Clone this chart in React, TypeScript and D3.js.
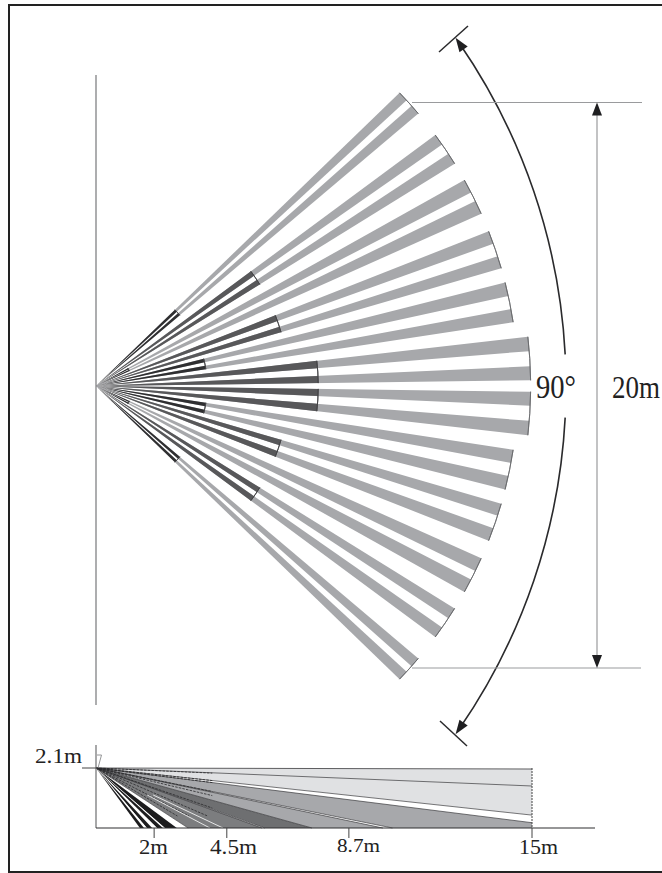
import React from "react";
import * as d3 from "d3";

// Plan view: each fan holds two strips, angles in degrees above the axis, mirrored below
const stripHighDeg = [44.0, 41.6, 36.5, 33.4, 29.2, 26.0, 21.5, 17.9, 14.2, 10.5, 6.5, 2.6];
const stripLowDeg = [42.6, 40.2, 34.9, 31.8, 27.3, 24.1, 19.7, 16.2, 12.3, 8.7, 4.6, 0.75];
// range of each strip in metres, and the near dark part
const stripRangeM = [15, 15, 15, 15, 15, 15, 15, 15, 15, 15, 15.45, 15.45];
const stripDarkM = [3.9, 3.9, 6.85, 6.85, 1.3, 1.3, 6.85, 6.85, 3.95, 3.95, 7.9, 7.9];
const stripDarkTone = ["#2f2f31", "#2f2f31", "#58585a", "#58585a", "#232325", "#232325", "#58585a", "#58585a", "#2f2f31", "#2f2f31", "#58585a", "#58585a"];

// Side view: zones defined by the ground distance (m) their edges aim at from the 2.1 m mount
const zoneNear = [900, 19.1, 16.45, 10.2, 9.87, 7.43, 5.81, 5.71, 3.17, 2.78, 2.37, 2.3, 2.1, 1.93, 1.75, 1.65];
const zoneFar = [19.1, 16.45, 10.2, 9.87, 7.43, 5.81, 5.71, 3.17, 2.78, 2.37, 2.3, 2.1, 1.93, 1.75, 1.65, 1.51];
const zoneFill = ["#e0e1e3", "#ffffff", "#a7a8ab", "#ffffff", "#a7a8ab", "#6e6f71", "#ffffff", "#7c7d7f", "#ffffff", "#1c1c1e", "#ffffff", "#1c1c1e", "#ffffff", "#1c1c1e", "#ffffff", "#1c1c1e"];
const solidRays = [900, 50, 19.1, 16.45, 10.2, 9.87, 7.43, 5.81, 5.71, 3.17];
const hatchRays = [47, 19.1, 16.45, 10.2, 8.7, 6.0, 4.8, 4.0, 3.5];
const whiteRays = [4.37, 3.92];
const sideTicks = [2, 4.5, 8.7, 15];
const sideLabels = ["2m", "4.5m", "8.7m", "15m"];

const W = 662;
const H = 873;
const OX = 96;
const OY = 386;
const GRAY = "#a7a8ab";
const SERIF = "'Liberation Serif', 'Times New Roman', serif";

const radius = d3.scaleLinear().domain([0, 15]).range([0, 422]);
const angle = d3.scaleLinear().domain([90, -90]).range([0, Math.PI]);
const sideX = d3.scaleLinear().domain([0, 15]).range([96, 532]);
const sideY = d3.scaleLinear().domain([0, 2.1]).range([828, 768]);

const wedge = (hi: number, lo: number, r0: number, r1: number) =>
  d3.arc()({ startAngle: angle(hi), endAngle: angle(lo), innerRadius: r0, outerRadius: r1 } as any) as string;

const rayEnd = (d: number): [number, number] => {
  if (d >= 15) return [sideX(15), sideY(2.1 * (1 - 15 / d))];
  return [sideX(d), sideY(0)];
};
const rayAt = (d: number, m: number): [number, number] => [sideX(m), sideY(2.1 * (1 - m / d))];
const rayLine = d3.line();

const zonePath = (near: number, far: number) => {
  const a = rayEnd(near);
  const b = rayEnd(far);
  const pts: [number, number][] = [[sideX(0), sideY(2.1)], a];
  if (near >= 15 && far < 15) pts.push([sideX(15), sideY(0)]);
  pts.push(b);
  return rayLine(pts) + "Z";
};

// the 90° sweep arc
const SWEEP_CX = -38;
const SWEEP_R = 604;
const sweepDomain = [3.0, 34.6];
const sweepPoint = (deg: number, sign: number): [number, number] => {
  const t = (deg * Math.PI) / 180;
  return [SWEEP_CX + SWEEP_R * Math.cos(t), OY - sign * SWEEP_R * Math.sin(t)];
};

const arrow = (x: number, y: number, rot: number, fill: string, len: number, half: number, key: string) => (
  <path key={key} d={`M0,0L${-len},${half}L${-len},${-half}Z`} transform={`translate(${x},${y}) rotate(${rot})`} fill={fill} />
);

export default function App() {
  const sweepArc = (sign: number) =>
    d3.arc()({
      startAngle: angle(sign * sweepDomain[0]),
      endAngle: angle(sign * sweepDomain[1]),
      innerRadius: SWEEP_R,
      outerRadius: SWEEP_R,
    } as any) as string;

  return (
    <svg
      width={W}
      height={H}
      viewBox={`0 0 ${W} ${H}`}
      style={{ position: "absolute", left: 0, top: 0, display: "block", background: "#fff" }}
    >
      <rect x={9} y={5} width={720} height={867} fill="none" stroke="#222" strokeWidth={2} />

      <line x1={96} x2={96} y1={75} y2={705} stroke="#8a8b8d" strokeWidth={1.4} />

      {/* plan view strips */}
      <g transform={`translate(${OX},${OY})`}>
        {[1, -1].map((sign) =>
          stripHighDeg.map((hi, i) => {
            const lo = stripLowDeg[i];
            const a = sign * hi;
            const b = sign * lo;
            const outer = radius(stripRangeM[i]);
            const dark = radius(stripDarkM[i]);
            return (
              <g key={`${sign}-${i}`}>
                <path d={wedge(a, b, 0, outer)} fill={GRAY} />
                <path d={wedge(a, b, 0, dark)} fill={stripDarkTone[i]} />
              </g>
            );
          })
        )}
        {[1, -1].map((sign) =>
          stripHighDeg.map((hi, i) =>
            i % 2 === 0 ? (
              <g key={`e-${sign}-${i}`} fill="none">
                <path
                  d={wedge(sign * hi, sign * stripLowDeg[i + 1], radius(stripRangeM[i]), radius(stripRangeM[i]))}
                  stroke="#66676a"
                  strokeWidth={0.8}
                />
                <path
                  d={wedge(sign * hi, sign * stripLowDeg[i + 1], radius(stripDarkM[i]), radius(stripDarkM[i]))}
                  stroke="#444446"
                  strokeWidth={0.9}
                />
              </g>
            ) : null
          )
        )}
      </g>

      {/* 90° sweep */}
      <g transform={`translate(${SWEEP_CX},${OY})`} fill="none" stroke="#2a2a2c" strokeWidth={1.6}>
        <path d={sweepArc(1)} />
        <path d={sweepArc(-1)} />
      </g>
      {arrow(...sweepPoint(35.2, 1), -125, "#1f1f21", 14, 5, "a1")}
      {arrow(...sweepPoint(35.2, -1), 125, "#1f1f21", 14, 5, "a2")}
      <line x1={439} y1={52} x2={468} y2={26} stroke="#2a2a2c" strokeWidth={1.5} />
      <line x1={440} y1={721} x2={467} y2={746} stroke="#2a2a2c" strokeWidth={1.5} />
      <text x={536} y={398} fontFamily={SERIF} fontSize={33} fill="#222" textLength={40} lengthAdjust="spacingAndGlyphs">
        90°
      </text>

      {/* 20 m dimension */}
      <g stroke="#9a9b9d" strokeWidth={1.2}>
        <line x1={412} x2={642} y1={102.5} y2={102.5} />
        <line x1={412} x2={641} y1={668} y2={668} />
        <line x1={597} x2={597} y1={104} y2={666} />
      </g>
      {arrow(597, 102.5, -90, "#1f1f21", 13, 5, "d1")}
      {arrow(597, 668, 90, "#1f1f21", 13, 5, "d2")}
      <text transform="translate(612,398) scale(1,1.2)" fontFamily={SERIF} fontSize={27} fill="#222">
        20m
      </text>

      {/* side view */}
      <g>
        {zoneNear.map((n, i) => (
          <path key={i} d={zonePath(n, zoneFar[i])} fill={zoneFill[i]} />
        ))}
        {solidRays.map((d) => (
          <path key={d} d={rayLine([[sideX(0), sideY(2.1)], rayEnd(d)])!} fill="none" stroke="#3a3a3c" strokeWidth={d === 900 ? 0.8 : 0.7} />
        ))}
        {hatchRays.map((d) => (
          <path key={d} d={rayLine([[sideX(0), sideY(2.1)], rayAt(d, Math.min(4, d * 0.8))])!} fill="none" stroke="#2a2a2c" strokeWidth={0.8} strokeDasharray="2.5 1.2" />
        ))}
        {whiteRays.map((d) => (
          <path key={d} d={rayLine([rayAt(d, d * 0.45), rayEnd(d)])!} fill="none" stroke="#fff" strokeWidth={0.8} />
        ))}
      </g>
      <line x1={sideX(15)} x2={sideX(15)} y1={768} y2={828} stroke="#444" strokeWidth={1} strokeDasharray="2 1" />
      <path d={`M${sideX(0) + 1},${sideY(2.1) - 13}h4.5l-3.5,13`} fill="none" stroke="#8a8b8d" strokeWidth={0.9} />
      <line x1={96} x2={96} y1={745} y2={828} stroke="#6d6e70" strokeWidth={1.2} />
      <line x1={82} x2={96} y1={768} y2={768} stroke="#444" strokeWidth={1} />
      <line x1={96} x2={595} y1={828} y2={828} stroke="#2f2f31" strokeWidth={1.2} />
      {sideTicks.map((t) => (
        <line key={t} x1={sideX(t)} x2={sideX(t)} y1={828} y2={838} stroke="#444" strokeWidth={1} />
      ))}
      <g fontFamily={SERIF} fill="#222">
        <text x={35} y={763} fontSize={20} textLength={47} lengthAdjust="spacingAndGlyphs">2.1m</text>
        {sideLabels.map((s, i) => (
          <text key={s} x={[139, 210, 337, 519][i]} y={[854, 854, 851.5, 854][i]} fontSize={[21, 21, 19, 21][i]} textLength={[29, 47, 43, 39][i]} lengthAdjust="spacingAndGlyphs">
            {s}
          </text>
        ))}
      </g>
    </svg>
  );
}
